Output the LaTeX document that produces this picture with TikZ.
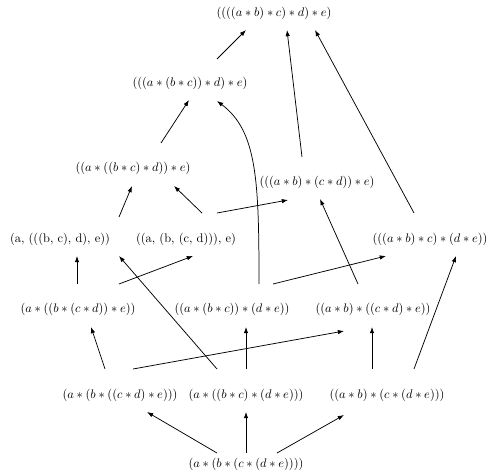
\documentclass[tikz,border=0pt]{standalone}
\usetikzlibrary{arrows.meta}
\begin{document}
\begin{tikzpicture}[x=0.806pt,y=-0.806pt,
  lbl/.style={inner sep=0pt},
  arr/.style={-{Latex[length=5pt,width=3.6pt]},line width=0.6pt}]
\useasboundingbox (0,0) rectangle (488,471);
\node[lbl] (t)   at (274,13)  {$((((a*b)*c)*d)*e)$};
\node[lbl] (r2)  at (190,83)  {$(((a*(b*c))*d)*e)$};
\node[lbl] (r3a) at (133,168) {$((a*((b*c)*d))*e)$};
\node[lbl] (r3b) at (317,182) {$(((a*b)*(c*d))*e)$};
\node[lbl] (r4a) at (60,239)  {(a, (((b, c), d), e))};
\node[lbl] (r4b) at (186,239) {((a, (b, (c, d))), e)};
\node[lbl] (r4c) at (430,239) {$(((a*b)*c)*(d*e))$};
\node[lbl] (r5a) at (78,309)  {$(a*((b*(c*d))*e))$};
\node[lbl] (r5b) at (232,309) {$((a*(b*c))*(d*e))$};
\node[lbl] (r5c) at (373,309) {$((a*b)*((c*d)*e))$};
\node[lbl] (r6a) at (120,395) {$(a*(b*((c*d)*e)))$};
\node[lbl] (r6b) at (246,395) {$(a*((b*c)*(d*e)))$};
\node[lbl] (r6c) at (387,395) {$((a*b)*(c*(d*e)))$};
\node[lbl] (b)   at (246,464) {$(a*(b*(c*(d*e))))$};
% arrows
\draw[arr] ([shift={(-29,-11)}]b.center) -- ([shift={(27,17)}]r6a.center);
\draw[arr] ([shift={(0,-11)}]b.center) -- ([shift={(0,17)}]r6b.center);
\draw[arr] ([shift={(31,-11)}]b.center) -- ([shift={(-43,20)}]r6c.center);
\draw[arr] ([shift={(-15,-26)}]r6a.center) -- ([shift={(13,18)}]r5a.center);
\draw[arr] ([shift={(13,-26)}]r6a.center) -- ([shift={(-29,22)}]r5c.center);
\draw[arr] ([shift={(-29,-26)}]r6b.center) -- ([shift={(59,17)}]r4a.center);
\draw[arr] ([shift={(0,-26)}]r6b.center) -- ([shift={(14,18)}]r5b.center);
\draw[arr] ([shift={(-15,-26)}]r6c.center) -- ([shift={(-1,18)}]r5c.center);
\draw[arr] ([shift={(27,-26)}]r6c.center) -- ([shift={(26,17)}]r4c.center);
\draw[arr] ([shift={(-1,-25)}]r5a.center) -- ([shift={(17,17)}]r4a.center);
\draw[arr] ([shift={(41,-25)}]r5a.center) -- ([shift={(7,17)}]r4b.center);
\draw[arr] ([shift={(27,-25)}]r5b.center) .. controls +(0,-104) and +(40,30) .. ([shift={(27,18)}]r2.center);
\draw[arr] ([shift={(41,-25)}]r5b.center) -- ([shift={(-44,17)}]r4c.center);
\draw[arr] ([shift={(-15,-25)}]r5c.center) -- ([shift={(3,17)}]r3b.center);
\draw[arr] ([shift={(16,-26)}]r4b.center) -- ([shift={(41,18)}]r3a.center);
\draw[arr] ([shift={(31,-26)}]r4b.center) -- ([shift={(-29,18)}]r3b.center);
\draw[arr] ([shift={(59,-22)}]r4a.center) -- ([shift={(-1,18)}]r3a.center);
\draw[arr] ([shift={(28,-25)}]r3a.center) -- ([shift={(-1,17)}]r2.center);
\draw[arr] ([shift={(27,-24)}]r2.center) -- ([shift={(-28,17)}]t.center);
\draw[arr] ([shift={(-15,-25)}]r3b.center) -- ([shift={(13,17)}]t.center);
\draw[arr] ([shift={(-16,-26)}]r4c.center) -- ([shift={(41,17)}]t.center);
\end{tikzpicture}
\end{document}
